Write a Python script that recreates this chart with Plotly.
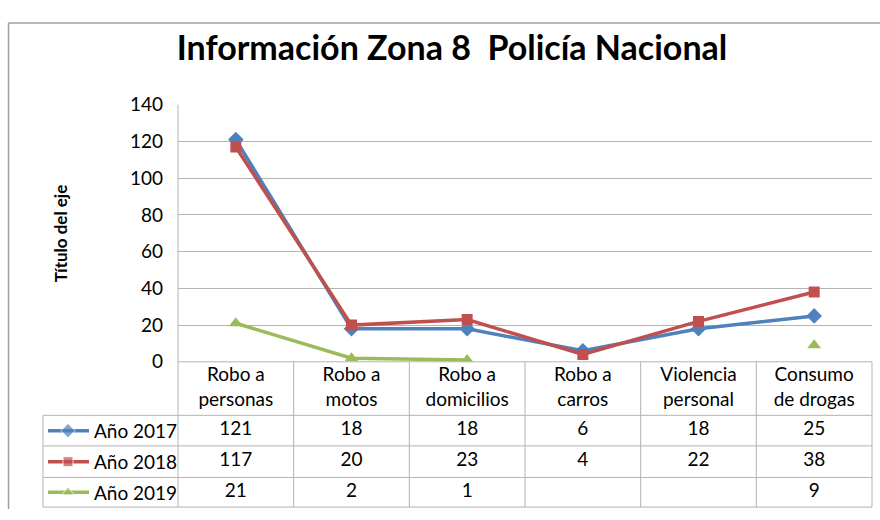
import plotly.graph_objects as go

# datos
categorias = ["Robo a<br>personas", "Robo a<br>motos", "Robo a<br>domicilios",
              "Robo a<br>carros", "Violencia<br>personal", "Consumo<br>de drogas"]
series = ["Año 2017", "Año 2018", "Año 2019"]
anio_2017 = [121, 18, 18, 6, 18, 25]
anio_2018 = [117, 20, 23, 4, 22, 38]
anio_2019 = [21, 2, 1, None, None, 9]
y_ticks = [0, 20, 40, 60, 80, 100, 120, 140]

valores = [anio_2017, anio_2018, anio_2019]
colores = ["#4F81BD", "#C0504D", "#9BBB59"]
simbolos = ["diamond", "square", "triangle-up"]
tamanos = [12, 11, 12]

W, H = 880, 520
FONT = "Lato"
GRID = "#B4B4B4"
FS = 19

def px(x):
    return x / W

def py(y):
    return 1 - y / H

# columnas en pixeles
x_left, x_plot, x_right = 43, 178, 872
y_top, y_axis = 97, 366
row_lines = [422, 454, 487, 518]
row_centers = [438, 470.5, 502.5]
unit = (x_right - x_plot) / len(categorias)
x2_min = -0.5 - (x_plot - x_left) / unit

fig = go.Figure()
idx = list(range(len(categorias)))

for nombre, vals, col, sym, sz in zip(series, valores, colores, simbolos, tamanos):
    fig.add_trace(go.Scatter(
        x=idx, y=vals, mode="lines+markers", name=nombre,
        line=dict(color=col, width=3.5),
        marker=dict(symbol=sym, size=sz, color=col),
        connectgaps=False, showlegend=False, xaxis="x", yaxis="y",
    ))

# tabla de datos: encabezados
fig.add_trace(go.Scatter(
    x=idx, y=[394] * len(categorias), text=categorias, mode="text",
    textfont=dict(family=FONT, size=FS, color="#000"),
    xaxis="x2", yaxis="y2", showlegend=False, hoverinfo="skip",
))

def to_x2(p):
    return x2_min + (p - x_left) / unit

for k, (nombre, vals, col, sym, sz) in enumerate(zip(series, valores, colores, simbolos, tamanos)):
    yc = row_centers[k]
    fig.add_trace(go.Scatter(
        x=idx, y=[yc] * len(vals),
        text=["" if v is None else str(v) for v in vals], mode="text",
        textfont=dict(family=FONT, size=FS, color="#000"),
        xaxis="x2", yaxis="y2", showlegend=False, hoverinfo="skip",
    ))
    # clave de la leyenda
    fig.add_trace(go.Scatter(
        x=[to_x2(48), to_x2(68), to_x2(89)], y=[yc] * 3, mode="lines+markers",
        line=dict(color=col, width=3.5),
        marker=dict(symbol=sym, size=[0, sz - 1, 0], color=col),
        xaxis="x2", yaxis="y2", showlegend=False, hoverinfo="skip",
    ))
    fig.add_annotation(
        x=to_x2(92), y=yc, xref="x2", yref="y2", text=nombre, showarrow=False,
        xanchor="left", yanchor="middle", font=dict(family=FONT, size=FS, color="#000"),
    )

# bordes de la tabla
shapes = []
line = dict(color=GRID, width=1)
shapes.append(dict(type="line", xref="paper", yref="paper", x0=px(x_plot), x1=px(x_right),
                   y0=py(y_axis), y1=py(y_axis), line=line))
for yl in row_lines:
    shapes.append(dict(type="line", xref="paper", yref="paper", x0=px(x_left), x1=px(x_right),
                       y0=py(yl), y1=py(yl), line=line))
shapes.append(dict(type="line", xref="paper", yref="paper", x0=px(x_left), x1=px(x_left),
                   y0=py(row_lines[0]), y1=py(row_lines[-1]), line=line))
for i in range(len(categorias) + 1):
    xc = x_plot + i * unit
    shapes.append(dict(type="line", xref="paper", yref="paper", x0=px(xc), x1=px(xc),
                       y0=py(y_axis), y1=py(row_lines[-1]), line=line))
# eje vertical
shapes.append(dict(type="line", xref="paper", yref="paper", x0=px(x_plot), x1=px(x_plot),
                   y0=py(y_top), y1=py(y_axis), line=line))
# marco del grafico (solo izquierda y arriba quedan visibles)
marco = dict(color="#A0A0A0", width=1.5)
shapes.append(dict(type="line", xref="paper", yref="paper", x0=px(8.5), x1=1,
                   y0=py(11.5), y1=py(11.5), line=marco))
shapes.append(dict(type="line", xref="paper", yref="paper", x0=px(8.5), x1=px(8.5),
                   y0=0, y1=py(11.5), line=marco))

fig.update_layout(
    width=W, height=H,
    margin=dict(l=0, r=0, t=0, b=0),
    paper_bgcolor="white", plot_bgcolor="white",
    font=dict(family=FONT, size=FS, color="#000"),
    shapes=shapes,
    xaxis=dict(domain=[px(x_plot), px(x_right)], range=[-0.5, 5.5], visible=False, fixedrange=True),
    yaxis=dict(domain=[py(y_axis), py(y_top)], range=[0, 140], tickvals=y_ticks,
               showgrid=True, gridcolor=GRID, gridwidth=1, zeroline=False, showline=False,
               ticks="", ticklabelstandoff=14, tickfont=dict(family=FONT, size=FS, color="#000")),
    xaxis2=dict(domain=[px(x_left), px(x_right)], range=[x2_min, 5.5], visible=False,
                anchor="y2"),
    yaxis2=dict(domain=[py(row_lines[-1]), py(y_axis)], range=[row_lines[-1], y_axis],
                visible=False, anchor="x2"),
    title=dict(text="<b>Información Zona 8  Policía Nacional</b>", x=px(452), y=py(48),
               xanchor="center", yanchor="middle",
               font=dict(family=FONT, size=34, color="#000")),
)

fig.add_annotation(
    x=px(48), y=py(232), xref="paper", yref="paper", text="<b>Título del eje</b>",
    textangle=-90, showarrow=False, font=dict(family=FONT, size=17, color="#000"),
)

fig.write_html("out.html", post_script="document.body.style.margin='0px';",
               config={"displayModeBar": False})
